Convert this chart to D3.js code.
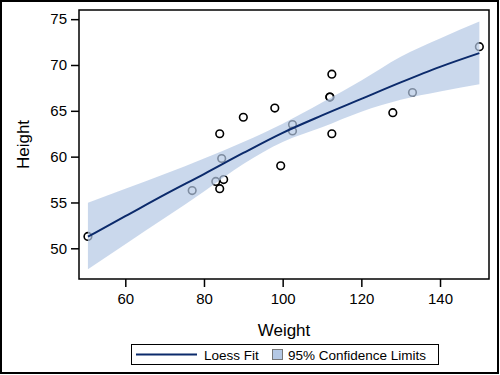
<!DOCTYPE html>
<html>
<head>
<meta charset="utf-8">
<script src="https://cdn.jsdelivr.net/npm/d3@7"></script>
<style>
  body { margin: 0; background: #fff; }
  svg { font-family: "Liberation Sans", Arial, sans-serif; }
</style>
</head>
<body>
<div id="screen"></div>
<script>
var width = 500;
var height = 375;

// class data: weight / height
var weights = [112.5, 84.0, 98.0, 102.5, 102.5, 83.0, 84.5, 112.5, 84.0, 99.5, 50.5, 90.0, 77.0, 112.0, 150.0, 128.0, 133.0, 85.0, 112.0];
var heights = [69.0, 56.5, 65.3, 62.8, 63.5, 57.3, 59.8, 62.5, 62.5, 59.0, 51.3, 64.3, 56.3, 66.5, 72.0, 64.8, 67.0, 57.5, 66.5];

// loess fit and 95% limits
var fitWeight = [50.5, 60, 70, 80, 90, 100, 110, 120, 130, 140, 150];
var fitHeight = [51.27, 53.5, 55.85, 58.1, 60.4, 62.6, 64.5, 66.3, 68.1, 69.8, 71.3];
var upperCL   = [54.98, 56.5, 58.1, 59.8, 61.6, 63.6, 65.9, 68.3, 70.9, 72.9, 74.74];
var lowerCL   = [47.71, 50.45, 53.3, 56.2, 59.2, 61.6, 63.2, 64.9, 66.2, 67.1, 67.9];

var xTicks = [60, 80, 100, 120, 140];
var yTicks = [50, 55, 60, 65, 70, 75];

var plot = {left: 79, top: 10, right: 489, bottom: 279};
var bandColor = "rgb(180,200,228)";
var lineColor = "#0b2a6b";

var scaleX = d3.scaleLinear().domain([48.23, 152.45]).range([plot.left, plot.right]);
var scaleY = d3.scaleLinear().domain([46.65, 76.0]).range([plot.bottom, plot.top]);

var svg = d3.select("#screen").append("svg")
  .attr("width", width).attr("height", height);

svg.append("rect")
  .attr("x", 0).attr("y", 0).attr("width", width).attr("height", height)
  .attr("fill", "#fff");

// outer border
svg.append("rect")
  .attr("x", 1).attr("y", 1).attr("width", width - 3).attr("height", height - 3)
  .attr("fill", "none").attr("stroke", "#000").attr("stroke-width", 2);

var fitData = fitWeight.map(function(w, i){
  return {w: w, fit: fitHeight[i], lo: lowerCL[i], hi: upperCL[i]};
});

// markers first, the band goes over them
svg.selectAll("circle.pt").data(weights).enter().append("circle")
  .attr("class", "pt")
  .attr("cx", function(d){ return scaleX(d); })
  .attr("cy", function(d, i){ return scaleY(heights[i]); })
  .attr("r", 3.8)
  .attr("fill", "none")
  .attr("stroke", "#000")
  .attr("stroke-width", 1.6);

var band = d3.area()
  .x(function(d){ return scaleX(d.w); })
  .y0(function(d){ return scaleY(d.lo); })
  .y1(function(d){ return scaleY(d.hi); })
  .curve(d3.curveMonotoneX);

svg.append("path").datum(fitData)
  .attr("d", band)
  .attr("fill", bandColor)
  .attr("fill-opacity", 0.7);

var fitLine = d3.line()
  .x(function(d){ return scaleX(d.w); })
  .y(function(d){ return scaleY(d.fit); })
  .curve(d3.curveMonotoneX);

svg.append("path").datum(fitData)
  .attr("d", fitLine)
  .attr("fill", "none")
  .attr("stroke", lineColor)
  .attr("stroke-width", 2);

// frame
svg.append("rect")
  .attr("x", plot.left).attr("y", plot.top)
  .attr("width", plot.right - plot.left).attr("height", plot.bottom - plot.top)
  .attr("fill", "none").attr("stroke", "#000").attr("stroke-width", 1.5);

var xAxis = d3.axisBottom(scaleX).tickValues(xTicks).tickSize(8).tickPadding(6);
var xg = svg.append("g").attr("transform", "translate(0," + plot.bottom + ")").call(xAxis);
var yAxis = d3.axisLeft(scaleY).tickValues(yTicks).tickSize(8).tickPadding(4);
var yg = svg.append("g").attr("transform", "translate(" + plot.left + ",0)").call(yAxis);

[xg, yg].forEach(function(g){
  g.select(".domain").remove();
  g.selectAll(".tick line").attr("stroke", "#000").attr("stroke-width", 1.5);
  g.selectAll(".tick text")
    .attr("fill", "#000")
    .style("font-family", "Liberation Sans, Arial, sans-serif")
    .style("font-size", "15px");
});

svg.append("text")
  .attr("x", (plot.left + plot.right) / 2).attr("y", 336)
  .attr("text-anchor", "middle")
  .style("font-size", "17px")
  .text("Weight");

svg.append("text")
  .attr("transform", "translate(29," + ((plot.top + plot.bottom) / 2) + ") rotate(-90)")
  .attr("text-anchor", "middle")
  .style("font-size", "17px")
  .text("Height");

// legend
var lg = svg.append("g");
lg.append("rect")
  .attr("x", 131.5).attr("y", 344.5).attr("width", 307).attr("height", 20)
  .attr("fill", "#fff").attr("stroke", "#000").attr("stroke-width", 1);
lg.append("line")
  .attr("x1", 136).attr("x2", 197).attr("y1", 354.5).attr("y2", 354.5)
  .attr("stroke", lineColor).attr("stroke-width", 2);
lg.append("text")
  .attr("x", 204).attr("y", 359.5)
  .style("font-size", "13.5px")
  .text("Loess Fit");
lg.append("rect")
  .attr("x", 272.5).attr("y", 349.5).attr("width", 10).attr("height", 10)
  .attr("fill", bandColor).attr("stroke", "#777").attr("stroke-width", 1);
lg.append("text")
  .attr("x", 288).attr("y", 359.5)
  .style("font-size", "13.5px")
  .text("95% Confidence Limits");
</script>
</body>
</html>
